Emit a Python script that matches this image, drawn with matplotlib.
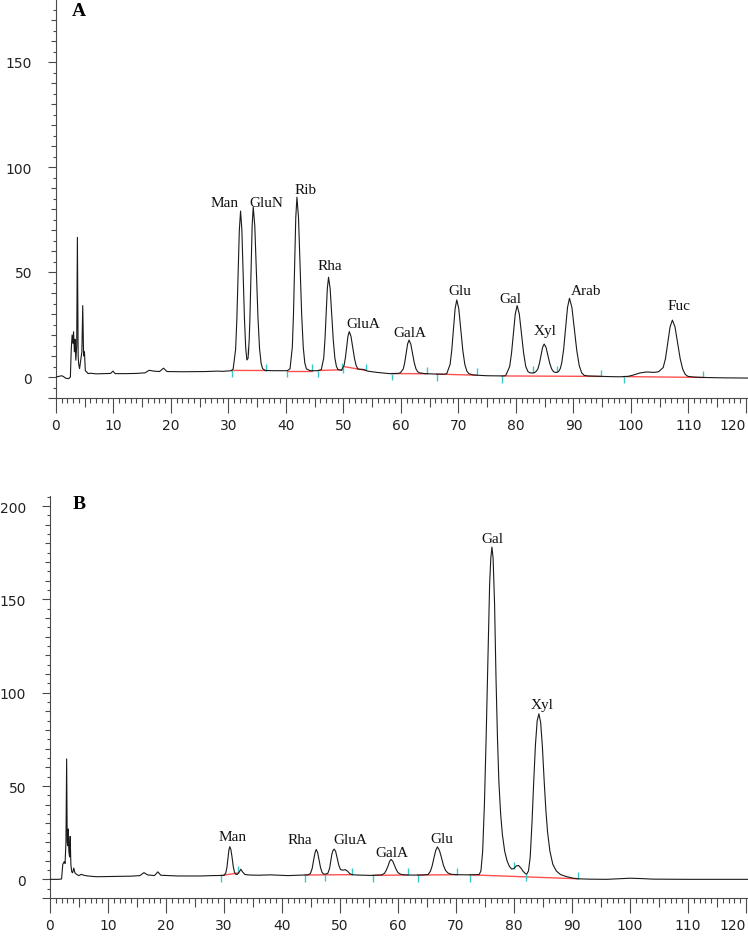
import numpy as np
import matplotlib
matplotlib.use("Agg")
import matplotlib.pyplot as plt
from matplotlib.ticker import FuncFormatter

# ---- data (time in min, signal) ----
trace_a = [
    (0, 0), (0.5, 0.3), (1.0, 0.6), (1.3, 0.2), (1.7, -0.6), (2.2, -0.8), (2.5, 0.0),
    (2.65, 13), (2.8, 20), (2.95, 16), (3.05, 21.5), (3.2, 12), (3.3, 18), (3.45, 8),
    (3.6, 15), (3.72, 66.5), (3.85, 10), (3.95, 6), (4.1, 4), (4.3, 8), (4.5, 12),
    (4.65, 34), (4.8, 10), (4.95, 12), (5.1, 3), (5.3, 2.5), (5.6, 1.6), (6.0, 1.8),
    (7.0, 1.5), (8.0, 1.6), (9.5, 1.7), (9.9, 2.8), (10.3, 1.6), (12, 1.6), (14, 1.7),
    (15.5, 2.0), (16.2, 3.2), (17.0, 2.8), (18.0, 2.6), (18.7, 4.2), (19.3, 2.6),
    (22, 2.5), (26, 2.6), (28, 2.8), (29, 2.7), (30.5, 3.0),
    # Man / GluN
    (30.81, 3.8), (31.24, 13.3), (31.455, 27.7), (31.67, 49.1), (31.885, 70), (32.1, 79),
    (32.325, 70), (32.55, 49.1), (32.775, 27.7), (33.0, 13.5), (33.2, 8.1), (33.4, 8.9),
    (33.6, 17.6), (33.73, 28.4), (33.92, 50.3), (34.11, 71.8), (34.3, 81), (34.575, 71.8),
    (34.85, 50.3), (35.125, 28.4), (35.4, 13.5), (35.675, 6.4), (35.95, 3.9), (36.4, 3.1),
    (38, 3.0), (40.2, 3.0),
    # Rib
    (40.7, 3.9), (41.1, 14.2), (41.3, 29.8), (41.5, 53.1), (41.7, 75.9), (41.9, 85.6),
    (42.175, 75.9), (42.45, 53.1), (42.725, 29.8), (43.0, 14.2), (43.275, 6.6),
    (43.55, 3.9), (44.2, 3.0), (45.5, 3.0),
    # Rha
    (46.14, 3.5), (46.56, 9), (46.77, 17.5), (46.98, 30), (47.19, 42.2), (47.4, 47.5),
    (47.675, 42.2), (47.95, 30), (48.225, 17.5), (48.5, 9), (48.775, 5), (49.05, 3.5),
    (49.65, 3.2),
    # GluA
    (50.1, 5.5), (50.325, 9), (50.55, 14.3), (50.775, 19.4), (51.0, 21.6), (51.3, 19.4),
    (51.6, 14.3), (51.9, 9), (52.2, 5.5), (52.5, 3.8), (52.8, 3.7), (53.5, 3.6),
    (54.2, 2.8), (55.8, 2.2), (58.0, 1.6), (59.5, 1.7),
    # GalA
    (59.9, 2.0), (60.4, 3.9), (60.65, 6.9), (60.9, 11.4), (61.15, 15.7), (61.4, 17.6),
    (61.7, 15.7), (62.0, 11.4), (62.3, 6.9), (62.6, 3.9), (62.9, 2.5), (63.2, 2.0),
    (64.2, 1.6), (66.0, 1.4), (67.5, 1.3),
    # Glu
    (67.96, 1.6), (68.54, 6.0), (68.83, 12.7), (69.12, 22.7), (69.41, 32.5), (69.7, 36.7),
    (70.05, 32.5), (70.4, 22.7), (70.75, 12.7), (71.1, 6.0), (71.45, 2.8), (71.8, 1.6),
    (72.5, 1.0), (73.5, 0.8), (75.0, 0.6), (77.0, 0.5), (78.0, 0.5),
    # Gal
    (78.25, 0.9), (78.9, 5.0), (79.225, 11.4), (79.55, 20.8), (79.875, 30.0), (80.2, 34.0),
    (80.575, 30.0), (80.95, 20.8), (81.325, 11.4), (81.7, 5.0), (82.075, 2.6),
    (82.45, 2.0), (82.9, 1.9),
    # Xyl
    (83.25, 2.1), (83.55, 2.8), (83.8, 3.85), (84.075, 6.45), (84.35, 10.3), (84.625, 14.1),
    (84.9, 15.7), (85.225, 14.1), (85.55, 10.3), (85.875, 6.45), (86.2, 3.85), (86.5, 2.6),
    (86.8, 2.2), (87.1, 2.2),
    # Arab
    (87.4, 2.6), (87.7, 4.0), (87.94, 6.5), (88.28, 13.0), (88.62, 23.0), (88.96, 33.1),
    (89.3, 37.5), (89.725, 33.1), (90.15, 22.9), (90.575, 12.5), (91.0, 5.4),
    (91.425, 2.0), (91.85, 0.8), (92.5, 0.5), (94.6, 0.3), (96.0, 0.2), (98.0, 0.1),
    (99.5, 0.3), (100.5, 1.0), (101.5, 1.9), (102.7, 2.4), (104.0, 2.2),
    # Fuc
    (104.8, 2.5), (105.6, 4.5), (106.0, 8.8), (106.4, 16.4), (106.8, 23.9), (107.2, 27.1),
    (107.65, 23.9), (108.1, 16.4), (108.55, 8.8), (109.0, 3.7), (109.45, 1.2),
    (109.9, 0.3), (110.8, 0.0), (112.3, -0.2), (116.0, -0.4), (120.3, -0.5),
]

trace_b = [
    (0, 0), (1.5, 0), (2.0, 0.2), (2.2, 8), (2.45, 9.5), (2.6, 8.5), (2.75, 20),
    (2.87, 64.5), (2.97, 20), (3.05, 18), (3.15, 27), (3.25, 15), (3.38, 12), (3.48, 23),
    (3.6, 8), (3.75, 4), (3.9, 3.5), (4.1, 6), (4.3, 3.5), (4.6, 2.6), (5.0, 2.0),
    (5.4, 2.7), (5.8, 2.2), (6.5, 1.8), (8, 1.4), (10, 1.5), (12, 1.6), (14, 1.7),
    (15.5, 2.0), (16.2, 3.6), (16.8, 2.4), (18, 2.0), (18.6, 4.0), (19.1, 2.2),
    (22, 1.8), (26, 1.8), (28, 2.0), (30.0, 2.1),
    # Man
    (30.3, 3.4), (30.5, 6.2), (30.7, 11.6), (30.85, 15.8), (31.0, 17.5), (31.2, 15.8),
    (31.4, 11.6), (31.6, 6.8), (31.8, 3.9), (32.0, 2.8), (32.3, 2.6), (32.6, 3.8),
    (32.9, 5.4), (33.2, 4.0), (33.6, 2.6), (34.5, 2.3), (36, 2.2), (38, 2.4), (40, 2.1),
    (41, 2.0), (43, 2.2), (44.5, 2.4),
    # Rha
    (44.9, 3.1), (45.2, 5.8), (45.45, 10.3), (45.7, 14.3), (45.9, 16.0), (46.15, 14.3),
    (46.4, 10.3), (46.65, 6.2), (46.9, 3.8), (47.2, 2.8), (47.5, 2.8),
    # GluA
    (47.9, 3.2), (48.2, 5.8), (48.4, 9.5), (48.6, 13.4), (48.8, 15.5), (49.0, 16.2),
    (49.25, 15.0), (49.5, 11.5), (49.8, 7.5), (50.1, 5.2), (50.5, 4.9), (50.9, 5.2),
    (51.3, 4.4), (51.7, 3.0), (52.1, 2.5), (53, 2.3), (54, 2.2), (55.5, 2.1),
    # GalA
    (57.2, 2.4), (57.7, 3.3), (58.0, 5.0), (58.3, 7.3), (58.55, 9.6), (58.8, 10.7),
    (59.1, 9.7), (59.4, 7.5), (59.7, 5.2), (60.0, 3.6), (60.4, 2.8), (61.0, 2.4),
    (62.0, 2.3), (64.0, 2.3), (65.0, 2.5),
    # Glu
    (65.2, 2.6), (65.6, 4.4), (65.9, 7.3), (66.2, 11.5), (66.5, 15.4), (66.8, 17.4),
    (67.15, 15.5), (67.5, 11.6), (67.85, 7.4), (68.2, 4.8), (68.6, 3.4), (69.2, 2.7),
    (70, 2.5), (72, 2.4), (73.5, 2.5),
    # Gal
    (74.0, 2.6), (74.3, 4.5), (74.6, 15), (74.9, 40), (75.2, 76), (75.5, 118), (75.8, 158),
    (76.0, 172), (76.2, 178), (76.4, 172), (76.65, 148), (76.9, 108), (77.15, 76),
    (77.4, 52), (77.7, 35), (78.0, 24), (78.4, 15), (78.8, 10), (79.2, 7), (79.6, 5.5),
    (80.0, 5.8), (80.4, 7.2), (80.8, 7.4), (81.2, 6.0), (81.6, 4.2), (82.0, 3.0), (82.2, 2.8),
    # Xyl
    (82.5, 4.5), (82.8, 12), (83.1, 30), (83.4, 52), (83.7, 72), (84.0, 85), (84.3, 88.7),
    (84.6, 84), (84.9, 71), (85.2, 53), (85.5, 37), (85.8, 25), (86.2, 15), (86.7, 8),
    (87.3, 4.5), (88.0, 2.6), (89.0, 1.5), (90.2, 0.6), (91, 0.3), (93, 0.1), (96, 0.0),
    (98, 0.3), (100, 0.6), (102, 0.4), (104, 0.1), (110, 0.0), (120.3, 0.0),
]

# peak names and where their labels sit (time, signal at text baseline)
labels_a = ["Man", "GluN", "Rib", "Rha", "GluA", "GalA", "Glu", "Gal", "Xyl", "Arab", "Fuc"]
label_a_t = [29.4, 36.5, 43.4, 47.6, 53.5, 61.6, 70.2, 79.0, 85.0, 92.2, 108.3]
label_a_y = [81.6, 81.6, 87.6, 51.4, 23.6, 19.7, 39.5, 35.9, 20.5, 39.5, 32.4]

labels_b = ["Man", "Rha", "GluA", "GalA", "Glu", "Gal", "Xyl"]
label_b_t = [31.4, 43.1, 51.8, 58.9, 67.6, 76.2, 84.8]
label_b_y = [21.0, 19.5, 19.5, 12.5, 20.0, 180.8, 91.8]

# integration events (start / end times) and baselines
starts_a = [30.55, 40.2, 45.6, 50.0, 58.4, 66.2, 77.5, 98.7]
ends_a = [33.45, 36.6, 44.5, 49.7, 53.9, 64.6, 73.2, 82.9, 87.1, 94.8, 112.6]
baselines_a = [(30.55, 36.6), (40.2, 44.5), (45.6, 49.7), (50.0, 53.9), (58.4, 64.6),
               (66.2, 73.2), (77.5, 94.8), (98.7, 112.6)]

starts_b = [29.5, 44.0, 47.4, 55.7, 63.4, 72.4, 82.1]
ends_b = [32.5, 52.1, 61.7, 70.1, 80.0, 91.0]
baselines_b = [(29.5, 32.5), (44.0, 52.1), (55.7, 61.7), (63.4, 70.1), (72.4, 91.0)]

AXIS_C = "#4a4a4a"
PX = 0.72  # points per pixel at 100 dpi


def draw_panel(ax, trace, labels, lab_t, lab_y, starts, ends, baselines, ymin, ymax, mark):
    t = np.array([p[0] for p in trace])
    s = np.array([p[1] for p in trace])

    for t0, t1 in baselines:
        ax.plot([t0, t1], [np.interp(t0, t, s), np.interp(t1, t, s)],
                color="#ff5050", lw=1.0, zorder=2)
    for ts in starts:
        y = np.interp(ts, t, s)
        ax.vlines(ts, y - mark, y, color="#38c8c8", lw=1.0, zorder=3)
    for te in ends:
        y = np.interp(te, t, s)
        ax.vlines(te, y, y + mark, color="#38c8c8", lw=1.0, zorder=3)

    ax.plot(t, s, color="#1a1a1a", lw=0.8, zorder=4)

    for name, x, y in zip(labels, lab_t, lab_y):
        ax.text(x, y, name, ha="center", va="baseline", fontsize=11,
                family="Liberation Serif", color="#111111")

    ax.set_xlim(0, 120.35)
    ax.set_ylim(ymin, ymax)
    for side in ["top", "right"]:
        ax.spines[side].set_visible(False)
    for side in ["left", "bottom"]:
        ax.spines[side].set_color(AXIS_C)
        ax.spines[side].set_linewidth(0.8)

    xt = np.arange(0, 121, 5)
    yt = np.arange(-10, ymax, 10)
    ax.set_xticks(xt)
    ax.set_xticks(np.arange(0, 121, 1), minor=True)
    ax.set_yticks(yt)
    ax.set_yticks(np.arange(-10, ymax, 5), minor=True)
    ax.xaxis.set_major_formatter(FuncFormatter(lambda v, p: f"{v:.0f}" if v % 10 == 0 else ""))
    ax.yaxis.set_major_formatter(FuncFormatter(lambda v, p: f"{v:.0f}" if (v % 50 == 0 and v >= 0) else ""))

    ax.tick_params(axis="x", which="major", direction="out", length=15 * PX, width=0.8,
                   color=AXIS_C, pad=3.5, labelsize=10, labelcolor="#222222")
    ax.tick_params(axis="x", which="minor", direction="out", length=5 * PX, width=0.8, color=AXIS_C)
    ax.tick_params(axis="y", which="major", direction="out", length=8 * PX, width=0.8,
                   color=AXIS_C, pad=16 * PX, labelsize=10, labelcolor="#222222")
    ax.tick_params(axis="y", which="minor", direction="out", length=3 * PX, width=0.8, color=AXIS_C)

    xticks = ax.xaxis.get_major_ticks()
    for tick, v in zip(xticks, xt):
        if v % 10 != 0:
            tick.tick1line.set_markersize(9 * PX)
    # last label (120) is pulled inside the figure edge, as in the original
    xticks[len(xt) - 1].label1.set_horizontalalignment("right")
    for tick, v in zip(ax.yaxis.get_major_ticks(), yt):
        if v % 50 != 0 and v != -10:
            tick.tick1line.set_markersize(5 * PX)
    ax.patch.set_visible(False)


fig = plt.figure(figsize=(7.48, 9.37), dpi=100)
ax_a = fig.add_axes([56 / 748, 1 - 399 / 937, 692 / 748, 399 / 937])
ax_b = fig.add_axes([50 / 748, 1 - 899 / 937, 698 / 748, 402 / 937])

draw_panel(ax_a, trace_a, labels_a, label_a_t, label_a_y, starts_a, ends_a, baselines_a,
           -10, 180, 3.2)
draw_panel(ax_b, trace_b, labels_b, label_b_t, label_b_y, starts_b, ends_b, baselines_b,
           -10, 205.4, 3.6)

fig.text(79 / 748, 1 - 12 / 937, "A", ha="center", va="center", fontsize=14,
         fontweight="bold", family="Liberation Serif")
fig.text(79 / 748, 1 - 505 / 937, "B", ha="center", va="center", fontsize=14,
         fontweight="bold", family="Liberation Serif")

fig.savefig("out.png", dpi=100)
